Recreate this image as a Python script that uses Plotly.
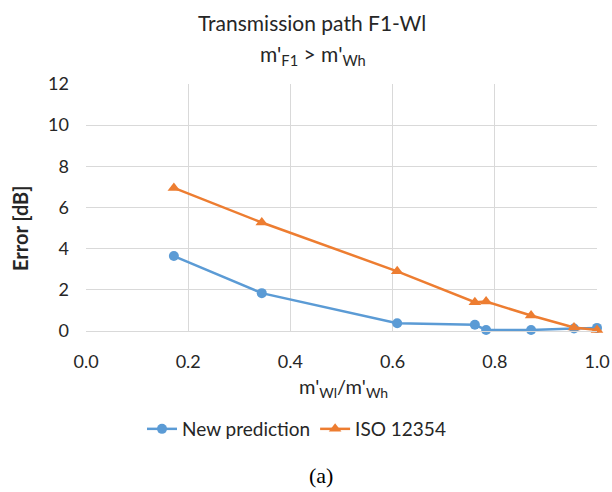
import plotly.graph_objects as go

x_new = [0.172, 0.344, 0.609, 0.761, 0.783, 0.871, 0.955, 1.0]
y_new = [3.64, 1.84, 0.38, 0.30, 0.05, 0.05, 0.12, 0.15]
x_iso = [0.172, 0.344, 0.609, 0.761, 0.783, 0.871, 0.955, 1.0]
y_iso = [6.95, 5.27, 2.90, 1.40, 1.43, 0.75, 0.17, 0.05]

FONT = "Lato"
TXT = "#262626"

fig = go.Figure()
fig.add_trace(go.Scatter(x=x_new, y=y_new, mode="lines+markers", name="New prediction",
                         line=dict(color="#5b9bd5", width=2.5),
                         marker=dict(symbol="circle", size=10, color="#5b9bd5"),
                         cliponaxis=False))
fig.add_trace(go.Scatter(x=x_iso, y=y_iso, mode="lines+markers", name="ISO 12354",
                         line=dict(color="#ed7d31", width=2.5),
                         marker=dict(symbol="triangle-up", size=11, color="#ed7d31"),
                         cliponaxis=False))

L, R, T, B = 86, 15, 84, 161
W, H = 612, 492
pw = W - L - R
ph = H - T - B

fig.update_layout(
    width=W, height=H,
    margin=dict(l=L, r=R, t=T, b=B, autoexpand=False),
    paper_bgcolor="white", plot_bgcolor="white",
    font=dict(family=FONT, size=18, color=TXT),
    showlegend=True,
    legend=dict(orientation="h", x=(142 - L) / pw, xanchor="left",
                y=(331 - 429) / ph, yanchor="middle",
                font=dict(size=19, color=TXT), itemwidth=30, tracegroupgap=0,
                bgcolor="rgba(0,0,0,0)"),
    xaxis=dict(range=[0, 1], dtick=0.2, tick0=0, tickformat=".1f",
               showgrid=True, gridcolor="#d9d9d9", gridwidth=1,
               showline=True, linecolor="#d9d9d9", zeroline=False,
               ticks="", ticklabelstandoff=14, automargin=False,
               tickfont=dict(size=18, color=TXT)),
    yaxis=dict(range=[0, 12], dtick=2, tick0=0,
               showgrid=True, gridcolor="#d9d9d9", gridwidth=1,
               showline=False, zeroline=False,
               ticks="", ticklabelstandoff=16, automargin=False,
               tickfont=dict(size=18, color=TXT)),
)

def ann(text, px, py, size, **kw):
    d = dict(text=text, x=(px - L) / pw, y=(T + ph - py) / ph, xref="paper", yref="paper",
             xanchor="center", yanchor="middle", showarrow=False,
             font=dict(size=size, color=kw.pop("color", TXT), family=kw.pop("family", FONT)))
    d.update(kw)
    return d

annotations = [
    ann("Transmission path F1-Wl", 312, 22, 21),
    ann("m'<sub>F1</sub> > m'<sub>Wh</sub>", 313, 55, 21),
    ann("m'<sub>Wl</sub>/m'<sub>Wh</sub>", 343, 387, 20),
    ann("<b>Error [dB]</b>", 20, 229, 20, textangle=-90),
    ann("(a)", 321, 476, 22, color="#000000", family="Liberation Serif"),
]
fig.update_layout(annotations=annotations)

fig.write_html("out.html")
